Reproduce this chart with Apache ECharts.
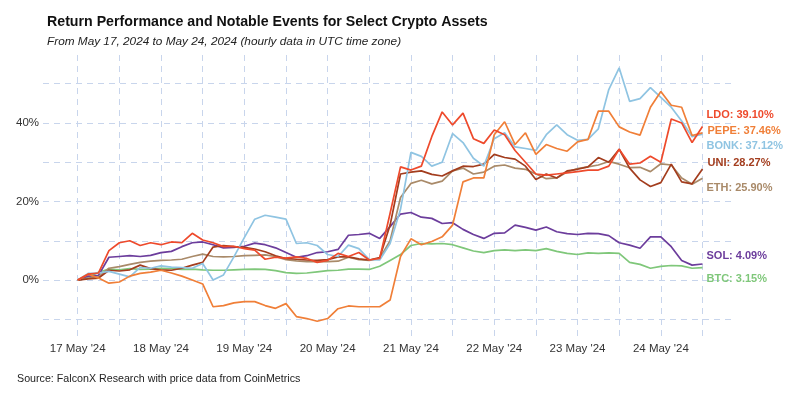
<!DOCTYPE html>
<html>
<head>
<meta charset="utf-8">
<script src="https://cdn.jsdelivr.net/npm/echarts@6/dist/echarts.min.js"></script>
<style>
  html, body { margin: 0; padding: 0; background: #fff; }
  #chart { width: 800px; height: 399px; }
</style>
</head>
<body>
<div id="chart"></div>
<script>
// hours since 17 May 2024 00:00 UTC (sampled every 3 hours)
var hours = [0, 3, 6, 9, 12, 15, 18, 21, 24, 27, 30, 33, 36, 39, 42, 45, 48, 51, 54, 57,
    60, 63, 66, 69, 72, 75, 78, 81, 84, 87, 90, 93, 96, 99, 102, 105, 108, 111, 114, 117,
    120, 123, 126, 129, 132, 135, 138, 141, 144, 147, 150, 153, 156, 159, 162, 165, 168, 171, 174, 177, 180];

// return in % for each asset
var ldo = [0, 1.5, 1.8, 7.5, 9.5, 10.0, 8.8, 9.5, 9.0, 9.7, 9.5, 11.9, 10.2, 9.5, 8.5, 8.6, 8.0, 7.6, 5.3, 5.8,
    5.6, 5.9, 5.5, 4.5, 5.0, 6.8, 6.0, 7.0, 5.1, 5.5, 17.0, 28.8, 28.0, 29.0, 36.5, 42.8, 39.5, 42.5, 36.0, 34.8,
    38.2, 37.0, 33.0, 30.0, 27.0, 26.7, 27.0, 27.3, 27.6, 28.0, 28.0, 29.0, 33.3, 29.5, 29.8, 31.5, 30.0, 41.0, 40.0, 35.0, 39.10];
var pepe = [0, 1.5, 0.5, -0.8, -0.5, 1.0, 1.7, 2.0, 2.5, 1.8, 1.0, 0.0, -1.0, -6.8, -6.5, -5.8, -5.5, -5.5, -6.5, -7.2,
    -6.0, -9.3, -9.8, -10.5, -9.8, -7.3, -6.6, -6.8, -6.8, -6.8, -5.1, 6.0, 10.5, 9.0, 9.8, 11.0, 14.0, 25.0, 26.0, 26.0,
    37.0, 40.3, 34.5, 37.5, 32.0, 34.5, 33.5, 32.8, 35.2, 35.8, 43.0, 43.0, 39.0, 37.7, 36.9, 44.0, 48.0, 44.5, 44.0, 36.8, 37.46];
var bonk = [0, 1.7, 1.8, 2.2, 1.5, 0.8, 3.2, 3.0, 3.6, 3.3, 3.2, 3.0, 4.2, 0.0, 1.3, 5.9, 10.8, 15.5, 16.5, 16.0,
    15.5, 9.3, 9.5, 8.8, 6.5, 6.0, 8.9, 8.0, 5.2, 5.1, 9.3, 18.0, 32.5, 31.5, 29.0, 30.0, 37.3, 35.0, 31.0, 29.0,
    36.0, 37.5, 33.9, 33.5, 33.0, 37.0, 39.5, 37.0, 35.6, 35.8, 38.5, 48.5, 54.0, 45.5, 46.2, 49.0, 46.5, 44.0, 40.5, 36.5, 37.12];
var uni = [0, 0.3, 0.5, 2.5, 2.3, 2.6, 3.8, 2.9, 2.6, 2.5, 3.0, 3.8, 4.5, 8.4, 8.8, 8.5, 8.3, 7.9, 7.2, 6.2,
    5.5, 5.3, 5.1, 5.0, 5.2, 5.9, 5.9, 5.4, 5.1, 5.7, 14.0, 27.0, 27.5, 27.8, 26.9, 26.5, 27.8, 29.0, 28.9, 29.5,
    32.0, 31.2, 30.8, 29.0, 25.6, 27.0, 26.0, 27.8, 28.2, 28.8, 31.2, 30.0, 33.3, 28.5, 25.5, 23.8, 24.8, 29.5, 25.0, 24.5, 28.27];
var eth = [0, 0.5, 0.8, 3.0, 3.4, 4.0, 4.5, 4.8, 5.0, 5.1, 5.3, 6.0, 6.6, 6.0, 5.9, 6.0, 6.2, 6.3, 6.4, 6.0,
    5.2, 4.9, 4.7, 4.7, 4.7, 4.8, 5.8, 5.2, 5.0, 5.5, 10.0, 21.0, 24.6, 25.4, 24.5, 25.2, 27.8, 28.5, 27.0, 27.5,
    29.0, 29.3, 28.5, 28.2, 27.0, 25.8, 26.0, 27.5, 28.4, 28.8, 29.3, 30.2, 29.5, 28.6, 28.7, 27.6, 29.6, 29.3, 26.0, 24.4, 25.90];
var sol = [0, 1.0, 1.2, 5.8, 6.0, 6.2, 6.0, 6.3, 7.0, 7.3, 8.5, 9.5, 9.7, 9.0, 8.2, 8.3, 8.6, 9.4, 9.0, 8.2,
    7.0, 5.8, 6.2, 7.0, 7.2, 7.8, 11.4, 11.6, 11.9, 10.6, 13.6, 16.8, 17.2, 16.0, 15.7, 14.4, 14.6, 12.9, 11.6, 10.6,
    11.9, 12.0, 14.0, 13.4, 12.7, 13.5, 12.3, 11.8, 11.6, 11.9, 11.8, 11.3, 9.5, 8.9, 8.1, 11.0, 11.0, 8.5, 5.0, 3.8, 4.09];
var btc = [0, 0.8, 2.0, 2.8, 2.6, 2.9, 2.7, 2.8, 3.0, 2.9, 2.7, 2.8, 2.6, 2.5, 2.5, 2.6, 2.7, 2.8, 2.7, 2.4,
    1.9, 1.7, 1.8, 2.1, 2.4, 2.5, 2.8, 2.8, 2.7, 3.5, 5.0, 6.5, 8.8, 9.3, 9.2, 9.3, 9.0, 8.2, 7.4, 7.0,
    7.5, 7.7, 7.5, 7.7, 7.5, 8.0, 7.3, 6.8, 6.5, 6.9, 6.8, 6.9, 6.8, 4.5, 4.0, 3.0, 3.5, 3.7, 3.6, 3.0, 3.15];

var dayLabels = ["17 May '24", "18 May '24", "19 May '24", "20 May '24", "21 May '24", "22 May '24", "23 May '24", "24 May '24"];
var dayTicks = [0, 24, 48, 72, 96, 120, 144, 168];
var gridHours = [0, 12, 24, 36, 48, 60, 72, 84, 96, 108, 120, 132, 144, 156, 168, 180];
var gridPct = [-10, 0, 10, 20, 30, 40, 50];
var labelPct = [0, 20, 40];

var fontName = "'Liberation Sans', Arial, sans-serif";
var gridColor = '#c8d5ec';

var chart = echarts.init(document.getElementById('chart'));

function makeSeries(name, vals, color, offset) {
    return {
        name: name,
        type: 'line',
        showSymbol: false,
        symbol: 'none',
        data: hours.map(function (h, i) { return [h, vals[i]]; }),
        lineStyle: { color: color, width: 1.7 },
        itemStyle: { color: color },
        endLabel: {
            show: true,
            offset: offset,
            distance: 4,
            color: color,
            fontFamily: fontName,
            fontSize: 11,
            fontWeight: 'bold',
            formatter: function (p) {
                return p.seriesName + ': ' + p.value[1].toFixed(2) + '%';
            }
        },
        emphasis: { disabled: true }
    };
}

var option = {
    animation: false,
    title: [{
        text: 'Return Performance and Notable Events for Select Crypto Assets',
        subtext: 'From May 17, 2024 to May 24, 2024 (hourly data in UTC time zone)',
        left: 42,
        top: 10,
        itemGap: 7,
        textStyle: { fontFamily: fontName, fontSize: 14.2, fontWeight: 'bold', color: '#111' },
        subtextStyle: { fontFamily: fontName, fontSize: 11.8, fontStyle: 'italic', color: '#222' }
    }, {
        text: 'Source: FalconX Research with price data from CoinMetrics',
        left: 12,
        top: 369,
        textStyle: { fontFamily: fontName, fontSize: 10.7, fontWeight: 'normal', color: '#222' }
    }],
    grid: { left: 43, right: 68, top: 55, bottom: 62 },
    xAxis: {
        type: 'value',
        min: -10,
        max: 188.5,
        axisLine: { show: false },
        axisTick: { show: false, customValues: gridHours },
        axisLabel: {
            customValues: dayTicks,
            margin: 6,
            color: '#333',
            fontFamily: fontName,
            fontSize: 11.5,
            formatter: function (v) { return dayLabels[dayTicks.indexOf(v)] || ''; }
        },
        splitLine: { show: true, lineStyle: { color: gridColor, type: [6, 5], width: 1 } }
    },
    yAxis: {
        type: 'value',
        min: -14.5,
        max: 57.3,
        axisLine: { show: false },
        axisTick: { show: false, customValues: gridPct },
        axisLabel: {
            customValues: labelPct,
            margin: 4,
            color: '#333',
            fontFamily: fontName,
            fontSize: 11.5,
            formatter: function (v) { return v + '%'; }
        },
        splitLine: { show: true, lineStyle: { color: gridColor, type: [6, 5], width: 1 } }
    },
    series: [
        makeSeries('BTC', btc, '#7fc77a', [0, 11]),
        makeSeries('SOL', sol, '#6c3d9c', [0, -8]),
        makeSeries('ETH', eth, '#a98a69', [0, 10]),
        makeSeries('UNI', uni, '#a33d1e', [1, -6]),
        makeSeries('BONK', bonk, '#8fc4e2', [0, 12]),
        makeSeries('PEPE', pepe, '#f07f38', [1, -2]),
        makeSeries('LDO', ldo, '#ee4a2c', [0, -12])
    ]
};

chart.setOption(option);
</script>
</body>
</html>
